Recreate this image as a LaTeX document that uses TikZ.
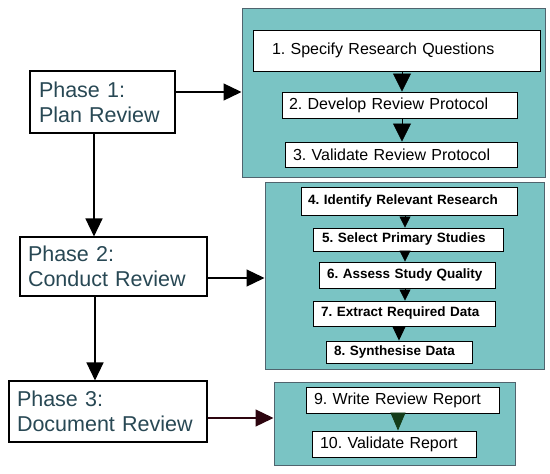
\documentclass[tikz,border=0pt]{standalone}
\usepackage{fontspec}
\setmainfont{Liberation Sans}
\usetikzlibrary{arrows.meta}
\frenchspacing
\definecolor{tealfill}{RGB}{122,196,196}
\definecolor{panelborder}{RGB}{80,100,110}
\definecolor{phasetext}{RGB}{40,72,84}
\definecolor{darkmaroon}{RGB}{45,5,15}
\definecolor{darkgreen}{RGB}{20,60,25}
\tikzset{
  panel/.style={draw=panelborder, fill=tealfill, line width=1pt, inner sep=0pt},
  stepbox/.style={draw=black, fill=white, line width=0.9pt, inner ysep=0pt, align=left,
    font=\frenchspacing\fontsize{16}{19}\selectfont},
  boldbox/.style={stepbox, font=\frenchspacing\fontsize{13.5}{16}\selectfont\bfseries},
  phasebox/.style={draw=black, fill=white, line width=1.1pt, inner ysep=0pt, align=left,
    text=phasetext, font=\fontsize{21.5}{25}\selectfont},
  phasearrow/.style={line width=1.3pt, -{Triangle[width=17pt,length=18pt]}},
  bigtip/.style={line width=0.8pt, -{Triangle[width=18pt,length=18pt]}},
  smalltip/.style={line width=0.8pt, -{Triangle[width=11pt,length=11pt]}},
}
\begin{document}
\begin{tikzpicture}[x=1pt,y=-1pt]
\useasboundingbox (0,0) rectangle (550,474);
% panels
\node[panel, minimum width=303pt, minimum height=169pt] (pan1) at (393.5,92.5) {};
\node[panel, minimum width=279pt, minimum height=187pt] (pan2) at (404.5,275.5) {};
\node[panel, minimum width=241pt, minimum height=83pt] (pan3) at (394.5,423.5) {};
% panel 1 boxes
\node[stepbox, minimum height=41pt, inner xsep=19pt, text width=249pt] (b1) at (396.5,50.5) {1. Specify Research Questions};
\node[stepbox, minimum height=26pt, inner xsep=7pt, text width=221pt] (b2) at (399.5,105) {2. Develop Review Protocol};
\node[stepbox, minimum height=25pt, inner xsep=8pt, text width=216pt] (b3) at (401,154.5) {3. Validate Review Protocol};
% panel 2 boxes
\node[boldbox, minimum height=28pt, inner xsep=7pt, text width=202pt] (b4) at (409,201) {4. Identify Relevant Research};
\node[boldbox, minimum height=23pt, inner xsep=9pt, text width=172pt] (b5) at (408,239.5) {5. Select Primary Studies};
\node[boldbox, minimum height=26pt, inner xsep=8pt, text width=160pt] (b6) at (407,275) {6. Assess Study Quality};
\node[boldbox, minimum height=25pt, inner xsep=8pt, text width=166pt] (b7) at (404,313.5) {7. Extract Required Data};
\node[boldbox, minimum height=22pt, inner xsep=8pt, text width=130pt] (b8) at (399,352) {8. Synthesise Data};
% panel 3 boxes
\node[stepbox, minimum height=26pt, inner xsep=8pt, text width=177pt] (b9) at (402.5,400) {9. Write Review Report};
\node[stepbox, minimum height=26pt, inner xsep=8pt, text width=148pt] (b10) at (394,444) {10. Validate Report};
% phase boxes
\node[phasebox, minimum height=62pt, inner xsep=9pt, text width=127pt] (p1) at (102.5,102) {Phase 1:\\Plan Review};
\node[phasebox, minimum height=59pt, inner xsep=8pt, text width=171pt] (p2) at (113.5,266.5) {Phase 2:\\Conduct Review};
\node[phasebox, minimum height=61pt, inner xsep=8pt, text width=182pt] (p3) at (108,411.5) {Phase 3:\\Document Review};
% helper coordinates
\coordinate (ay1) at (0,92);
\coordinate (ay2) at (0,278);
\coordinate (ay3) at (0,418);
\coordinate (ax1) at (94,0);
\coordinate (ax2) at (95,0);
\coordinate (ix1) at (402,0);
\coordinate (ix2) at (405,0);
\coordinate (ix3) at (399,0);
\coordinate (ix4) at (398,0);
% phase arrows
\draw[phasearrow] (p1.east |- ay1) -- (pan1.west |- ay1);
\draw[phasearrow] (p2.east |- ay2) -- (pan2.west |- ay2);
\draw[phasearrow, draw=darkmaroon, fill=darkmaroon] (p3.east |- ay3) -- (pan3.west |- ay3);
\draw[phasearrow] (p1.south -| ax1) -- (p2.north -| ax1);
\draw[phasearrow] (p2.south -| ax2) -- (p3.north -| ax2);
% inner arrows
\draw[bigtip] (b1.south -| ix1) -- (b2.north -| ix1);
\draw[bigtip] (b2.south -| ix1) -- (b3.north -| ix1);
\draw[smalltip] (b4.south -| ix2) -- (b5.north -| ix2);
\draw[smalltip] (b5.south -| ix2) -- (b6.north -| ix2);
\draw[smalltip] (b6.south -| ix2) -- (b7.north -| ix2);
\draw[line width=0.8pt, -{Triangle[width=13pt,length=14pt]}] (b7.south -| ix3) -- (b8.north -| ix3);
\draw[line width=0.8pt, draw=darkgreen, -{Triangle[width=15pt,length=18pt]}] (b9.south -| ix4) -- (b10.north -| ix4);
\end{tikzpicture}
\end{document}
